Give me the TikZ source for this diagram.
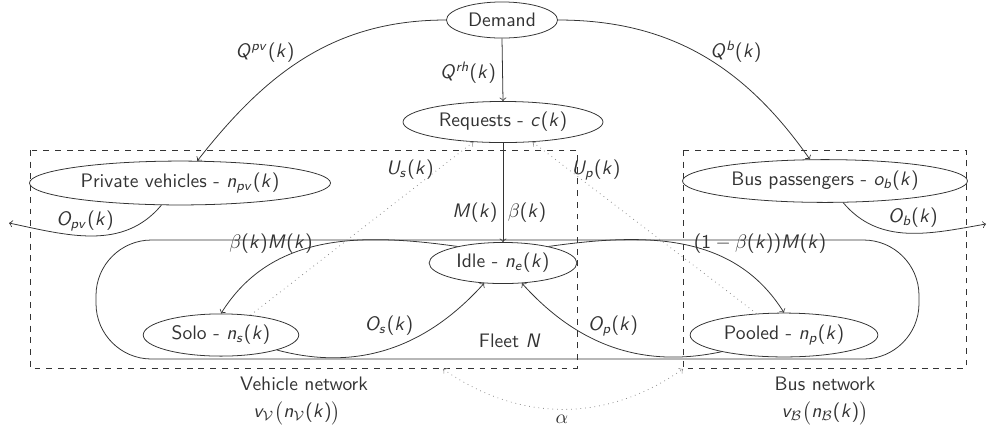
\documentclass[tikz,border=0pt]{standalone}
\usepackage{amsmath}
\usepackage{tikz}
\usetikzlibrary{shapes.geometric}
\renewcommand{\familydefault}{\sfdefault}
% sans italic letters in math, greek kept from cmmi
\DeclareSymbolFont{letters}{OT1}{cmss}{m}{sl}
\DeclareSymbolFont{operators}{OT1}{cmss}{m}{n}
\DeclareSymbolFont{grk}{OML}{cmm}{m}{it}
\DeclareMathSymbol{\alpha}{\mathord}{grk}{"0B}
\DeclareMathSymbol{\beta}{\mathord}{grk}{"0C}
\colorlet{ink}{black!80}
\tikzset{>=to,
  stock/.style={ellipse, draw=ink, text=ink, inner sep=0pt, minimum height=0.74cm},
  flow/.style={->, draw=ink},
  usage/.style={->, draw=black!45, dotted},
  netbox/.style={draw=ink, dashed},
  lbl/.style={text=ink, inner sep=1pt}}

\begin{document}
\begin{tikzpicture}[x=0.018cm, y=-0.018cm]
      \useasboundingbox (0,0) rectangle (987,429);
      % subnetworks and fleet
      \draw[netbox] (30,150) rectangle (577,368);
      \draw[netbox] (683,150) rectangle (966,368);
      \draw[ink, rounded corners=1cm] (96,240) rectangle (919,359);
      \coordinate (vnet) at (443,369);
      \coordinate (bnet) at (683,369);
      \coordinate (pvout) at (9,223);
      \coordinate (busout) at (986,224);
      % states
      \node[stock, minimum width=2cm, minimum height=0.65cm] (dem) at (502,20) {Demand};
      \node[stock, minimum width=3.6cm] (req) at (503,122) {Requests - $c(k)$};
      \node[stock, minimum width=5.42cm, minimum height=0.79cm] (pv) at (180,183) {Private vehicles - $n_{pv}(k)$};
      \node[stock, minimum width=5.13cm, minimum height=0.77cm] (bus) at (825,181) {Bus passengers - $o_b(k)$};
      \node[stock, minimum width=2.66cm] (idle) at (503,263) {Idle - $n_e(k)$};
      \node[stock, minimum width=2.8cm, minimum height=0.76cm] (solo) at (221,335) {Solo - $n_s(k)$};
      \node[stock, minimum width=3.38cm, minimum height=0.79cm] (pool) at (784,335) {Pooled - $n_p(k)$};
      % flows
      \draw[flow] (dem.west) to[out=180, in=52] (pv.52);
      \draw[flow] (dem.east) to[out=0, in=125] (bus.125);
      \draw[flow] (dem.south) -- (req.north);
      \draw[flow] (req.south) -- (idle.north);
      \draw[flow] (idle.160) to[out=172, in=58] (solo.north);
      \draw[flow] (idle.20) to[out=8, in=122] (pool.north);
      \draw[flow] (solo.-15) to[out=-15, in=-132] (idle.-133);
      \draw[flow] (pool.195) to[out=192, in=-48] (idle.-47);
      \draw[flow] (pv.-130) to[out=-130, in=-12] (pvout);
      \draw[flow] (bus.-50) to[out=-50, in=190] (busout);
      \draw[usage] (solo.34) -- (req.-146);
      \draw[usage] (pool.142) -- (req.-34);
      \draw[usage, <->] (vnet) to[out=-35, in=-145] (bnet);
      % labels
      \node[lbl] (qpv) at (265,53) {$Q^{pv}(k)$};
      \node[lbl] (qrh) at (468,73) {$Q^{rh}(k)$};
      \node[lbl] (qb) at (736,52) {$Q^{b}(k)$};
      \node[lbl] (us) at (410,170) {$U_s(k)$};
      \node[lbl] (up) at (596,170) {$U_p(k)$};
      \node[lbl] (mk) at (475,213) {$M(k)$};
      \node[lbl] (bk) at (527,213) {$\beta(k)$};
      \node[lbl] (bmk) at (271,244) {$\beta(k)M(k)$};
      \node[lbl] (cbmk) at (760,244) {$(1-\beta(k))M(k)$};
      \node[lbl] (os) at (389,326) {$O_s(k)$};
      \node[lbl] (op) at (613,326) {$O_p(k)$};
      \node[lbl] (opv) at (85,221) {$O_{pv}(k)$};
      \node[lbl] (ob) at (913,218) {$O_b(k)$};
      \node[lbl] (fleet) at (510,341) {Fleet $N$};
      \node[lbl, inner sep=0pt] (vlbl) at (304,384) {Vehicle network};
      \node[lbl, inner sep=0pt] (vfun) at (297,413) {$v_{\mathcal{V}}\big(n_{\mathcal{V}}(k)\big)$};
      \node[lbl, inner sep=0pt] (blbl) at (825,384) {Bus network};
      \node[lbl, inner sep=0pt] (bfun) at (825,413) {$v_{\mathcal{B}}\big(n_{\mathcal{B}}(k)\big)$};
      \node[lbl] (alpha) at (562,419) {$\alpha$};
    \end{tikzpicture}
\end{document}
